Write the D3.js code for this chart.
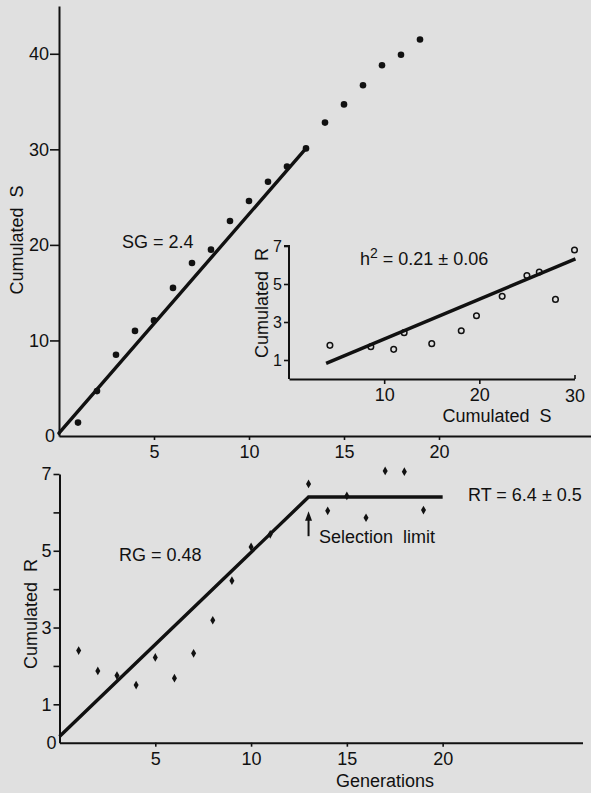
<!DOCTYPE html>
<html>
<head>
<meta charset="utf-8">
<script src="https://cdn.jsdelivr.net/npm/d3@7"></script>
<style>
  html, body { margin: 0; padding: 0; background: #e0e0e0; }
  svg { display: block; }
  text { font-family: "Liberation Sans", Arial, sans-serif; fill: #111; }
</style>
</head>
<body>
<svg id="chart" width="591" height="793"></svg>
<script>
// Cumulated selection differential (S) per generation
const generationsS = [1, 2, 3, 4, 5, 6, 7, 8, 9, 10, 11, 12, 13, 14, 15, 16, 17, 18, 19];
const cumulatedS   = [1.4, 4.7, 8.5, 11.0, 12.1, 15.5, 18.1, 19.5, 22.5, 24.6, 26.6, 28.2, 30.1, 32.8, 34.7, 36.7, 38.8, 39.9, 41.5];
// Regression of S on generation, drawn over generations 0-13
const sFitGen = [0, 13];
const sFitVal = [0.3, 30.1];

// Cumulated response (R) per generation
const generationsR = [1, 2, 3, 4, 5, 6, 7, 8, 9, 10, 11, 13, 14, 15, 16, 17, 18, 19];
const cumulatedR   = [2.40, 1.87, 1.75, 1.50, 2.22, 1.68, 2.33, 3.19, 4.22, 5.10, 5.43, 6.74, 6.04, 6.43, 5.86, 7.08, 7.06, 6.06];
// Response line: slope RG up to the selection limit, then plateau RT
const RG = 0.48;
const RT = 6.4;
const limitGen = 13;
const plateauEnd = 20;

// Realised heritability: R against S
const insetS = [4.3, 8.6, 11.0, 12.1, 15.0, 18.1, 19.7, 22.4, 25.0, 26.3, 28.0, 30.0];
const insetR = [1.77, 1.70, 1.56, 2.44, 1.86, 2.54, 3.33, 4.35, 5.45, 5.63, 4.19, 6.79];
const h2 = 0.21;
const h2Intercept = 0.0;
const insetFitS = [3.9, 30.1];

// Tick values
const topXTicks = [5, 10, 15, 20];
const topYTicks = [0, 10, 20, 30, 40];
const botXTicks = [5, 10, 15, 20];
const botYTicks = [0, 1, 2, 3, 4, 5, 6, 7];
const botYLabels = [0, 1, 3, 5, 7];
const insetXTicks = [10, 20, 30];
const insetYTicks = [1, 3, 5, 7];

const ink = "#111";
const svg = d3.select("#chart");

// ---------- scales ----------
const xTop = d3.scaleLinear().domain([0, 28]).range([59, 591]);
const yTop = d3.scaleLinear().domain([0, 45]).range([436, 6]);
const xBot = d3.scaleLinear().domain([0, 27.3]).range([59.5, 582.5]);
const yBot = d3.scaleLinear().domain([0, 7]).range([742.7, 474]);
const xIn  = d3.scaleLinear().domain([0, 30]).range([289, 574.5]);
const yIn  = d3.scaleLinear().domain([0, 7]).range([379, 246]);

function styleAxis(g, fontSize) {
  g.selectAll("path.domain").attr("stroke", ink).attr("stroke-width", 2);
  g.selectAll(".tick line").attr("stroke", ink).attr("stroke-width", 1.6);
  g.selectAll(".tick text").attr("fill", ink)
    .style("font-family", "'Liberation Sans', Arial, sans-serif")
    .style("font-size", fontSize + "px");
}

// ---------- top panel: cumulated S ----------
const gTopX = svg.append("g").attr("transform", `translate(0,${yTop(0)})`)
  .call(d3.axisBottom(xTop).tickValues(topXTicks).tickSize(4).tickSizeOuter(0).tickPadding(5).tickFormat(d3.format("d")));
styleAxis(gTopX, 18);

const gTopY = svg.append("g").attr("transform", `translate(${xTop(0)},0)`)
  .call(d3.axisLeft(yTop).tickValues(topYTicks).tickSize(9).tickSizeOuter(0).tickPadding(1).tickFormat(d3.format("d")));
styleAxis(gTopY, 18);
gTopY.selectAll(".tick").filter(d => d === 0).select("line").remove();
gTopY.selectAll(".tick").filter(d => d === 0).select("text").attr("x", -4);

svg.append("path")
  .attr("d", d3.line().x(d => xTop(d[0])).y(d => yTop(d[1]))(sFitGen.map((g, i) => [g, sFitVal[i]])))
  .attr("stroke", ink).attr("stroke-width", 3.4).attr("fill", "none").attr("stroke-linecap", "round");

svg.append("g").selectAll("circle")
  .data(generationsS.map((g, i) => [g, cumulatedS[i]]))
  .join("circle")
  .attr("cx", d => xTop(d[0])).attr("cy", d => yTop(d[1]))
  .attr("r", 3.3).attr("fill", ink);

svg.append("text").attr("x", 122).attr("y", 248).style("font-size", "18px").text("SG = 2.4");

svg.append("text")
  .attr("transform", `translate(23,240) rotate(-90)`)
  .attr("text-anchor", "middle").style("font-size", "18px")
  .attr("xml:space", "preserve")
  .text("Cumulated  S");

// ---------- inset: R against S ----------
const gInX = svg.append("g").attr("transform", `translate(0,${yIn(0)})`)
  .call(d3.axisBottom(xIn).tickValues(insetXTicks).tickSize(5).tickSizeOuter(0).tickPadding(4).tickFormat(d3.format("d")));
styleAxis(gInX, 18);
gInX.selectAll(".tick").filter(d => d === 30).select("line").attr("y2", -4);
gInX.selectAll(".tick").filter(d => d === 30).select("text").attr("y", 10);

const gInY = svg.append("g").attr("transform", `translate(${xIn(0)},0)`)
  .call(d3.axisLeft(yIn).tickValues(insetYTicks).tickSize(5).tickSizeOuter(0).tickPadding(2).tickFormat(d3.format("d")));
styleAxis(gInY, 16);
gInY.select("path.domain").attr("d", `M-5,${yIn(7)}H0V${yIn(0)}`);

svg.append("path")
  .attr("d", d3.line().x(d => xIn(d)).y(d => yIn(h2Intercept + h2 * d))(insetFitS))
  .attr("stroke", ink).attr("stroke-width", 3.4).attr("fill", "none");

svg.append("g").selectAll("circle")
  .data(insetS.map((s, i) => [s, insetR[i]]))
  .join("circle")
  .attr("cx", d => xIn(d[0])).attr("cy", d => yIn(d[1]))
  .attr("r", 2.8).attr("fill", "none").attr("stroke", ink).attr("stroke-width", 1.5);

const h2Text = svg.append("text").attr("x", 360).attr("y", 265).style("font-size", "18px");
h2Text.append("tspan").text("h");
h2Text.append("tspan").attr("dy", -7).style("font-size", "14px").text("2");
h2Text.append("tspan").attr("dy", 7).text(" = 0.21 \u00b1 0.06");

svg.append("text").attr("x", 497).attr("y", 422).attr("text-anchor", "middle")
  .style("font-size", "18px").attr("xml:space", "preserve").text("Cumulated  S");

svg.append("text")
  .attr("transform", `translate(268,303) rotate(-90)`)
  .attr("text-anchor", "middle").style("font-size", "18px")
  .attr("xml:space", "preserve")
  .text("Cumulated  R");

// ---------- bottom panel: cumulated R ----------
const gBotX = svg.append("g").attr("transform", `translate(0,${yBot(0)})`)
  .call(d3.axisBottom(xBot).tickValues(botXTicks).tickSize(4).tickSizeOuter(0).tickPadding(6).tickFormat(d3.format("d")));
styleAxis(gBotX, 18);

const gBotY = svg.append("g").attr("transform", `translate(${xBot(0)},0)`)
  .call(d3.axisLeft(yBot).tickValues(botYTicks).tickSize(6).tickSizeOuter(0).tickPadding(2)
    .tickFormat(d => botYLabels.includes(d) ? d3.format("d")(d) : ""));
styleAxis(gBotY, 18);
gBotY.selectAll(".tick").filter(d => d === 0).select("line").remove();
gBotY.selectAll(".tick").filter(d => d === 0).select("text").attr("x", -3);

const respLine = [[0, RT - RG * limitGen], [limitGen, RT], [plateauEnd, RT]];
svg.append("path")
  .attr("d", d3.line().x(d => xBot(d[0])).y(d => yBot(d[1]))(respLine))
  .attr("stroke", ink).attr("stroke-width", 3.4).attr("fill", "none").attr("stroke-linejoin", "miter");

const diamond = d3.symbol().type(d3.symbolDiamond).size(22);
svg.append("g").selectAll("path")
  .data(generationsR.map((g, i) => [g, cumulatedR[i]]))
  .join("path")
  .attr("transform", d => `translate(${xBot(d[0])},${yBot(d[1])})`)
  .attr("d", diamond).attr("fill", ink);

// selection-limit arrow
const ax = xBot(limitGen);
svg.append("line").attr("x1", ax).attr("x2", ax).attr("y1", yBot(5.38)).attr("y2", yBot(5.85))
  .attr("stroke", ink).attr("stroke-width", 2);
svg.append("path")
  .attr("d", `M${ax},${yBot(6.03)}L${ax - 3.5},${yBot(5.78)}L${ax + 3.5},${yBot(5.78)}Z`)
  .attr("fill", ink);

svg.append("text").attr("x", 319).attr("y", 543).style("font-size", "18px")
  .attr("xml:space", "preserve").text("Selection  limit");
svg.append("text").attr("x", 468).attr("y", 501).style("font-size", "18px").text("RT = 6.4 \u00b1 0.5");
svg.append("text").attr("x", 119).attr("y", 561).style("font-size", "18px").text("RG = 0.48");
svg.append("text").attr("x", 385).attr("y", 787).attr("text-anchor", "middle")
  .style("font-size", "18px").text("Generations");

svg.append("text")
  .attr("transform", `translate(37,614) rotate(-90)`)
  .attr("text-anchor", "middle").style("font-size", "18px")
  .attr("xml:space", "preserve")
  .text("Cumulated  R");
</script>
</body>
</html>
